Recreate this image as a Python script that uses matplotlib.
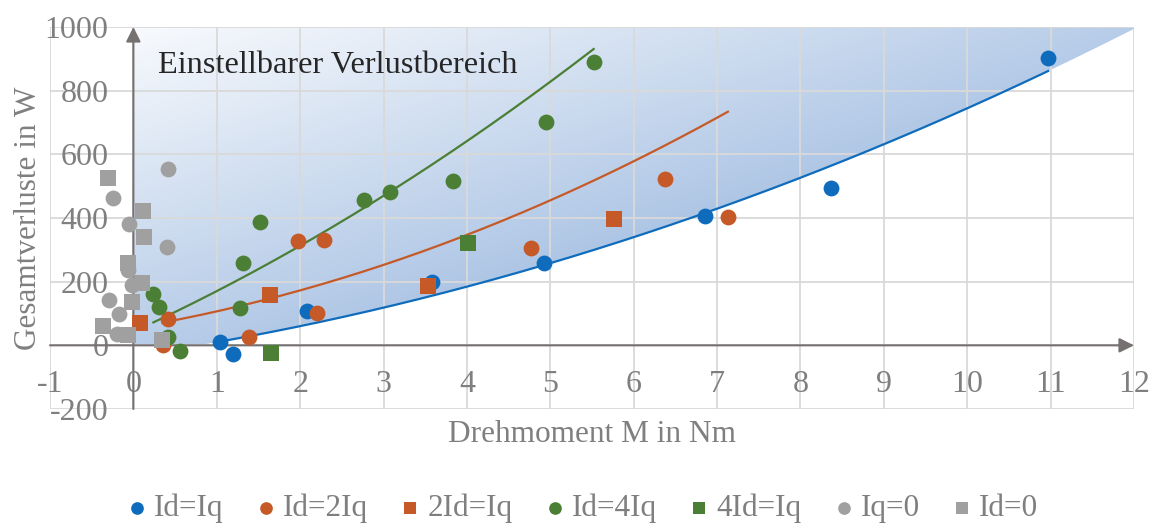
import numpy as np
import matplotlib
matplotlib.use('Agg')
import matplotlib.pyplot as plt
from matplotlib.patches import Polygon

plt.rcParams['font.family'] = ['Liberation Serif', 'DejaVu Serif']
plt.rcParams['axes.unicode_minus'] = False

# --- data (torque in Nm, losses in W) ---
idiq_x = [1.04, 1.19, 2.08, 3.58, 4.93, 6.85, 8.37, 10.97]
idiq_y = [9, -28, 107, 200, 260, 407, 495, 903]

id2iq_x = [0.35, 0.42, 1.39, 1.98, 2.20, 2.29, 4.77, 6.37, 7.13]
id2iq_y = [0, 82, 25, 329, 103, 332, 307, 523, 404]

twoidiq_x = [0.08, 1.64, 3.53, 5.76]
twoidiq_y = [69, 157, 185, 398]

id4iq_x = [0.24, 0.31, 0.42, 0.56, 1.28, 1.31, 1.52, 2.77, 3.08, 3.83, 4.95, 5.52]
id4iq_y = [160, 119, 25, -19, 116, 260, 386, 455, 483, 517, 702, 890]

fouridiq_x = [1.65, 4.01]
fouridiq_y = [-25, 320]

iq0_x = [0.41, -0.25, -0.05, 0.40, -0.06, -0.02, -0.29, -0.17, -0.20]
iq0_y = [555, 464, 382, 310, 238, 191, 141, 97, 35]

id0_x = [-0.30, 0.12, 0.13, -0.06, 0.10, -0.02, -0.36, -0.06, 0.34]
id0_y = [527, 423, 339, 260, 197, 135, 60, 31, 16]

# 2nd order trendlines as shown in the chart (a, b, c)
trend_idiq = [3.92, 38.5, -32.4]
trend_id2iq = [7.10, 44.6, 55.0]
trend_id4iq = [7.37, 120.2, 42.8]

c_blue = '#0f6cbd'
c_orange = '#c55a28'
c_green = '#4a7f35'
c_gray = '#a0a0a0'
txt_gray = '#7f7f7f'

fig = plt.figure(figsize=(11.58, 5.25), dpi=100)
ax = fig.add_axes([50/1158, 1-409/525, (1134-50)/1158, (409-27)/525])

def trend(coef, xs):
    xx = np.linspace(min(xs), max(xs), 200)
    return xx, np.polyval(coef, xx)

xb, yb = trend(trend_idiq, idiq_x)
xo, yo = trend(trend_id2iq, id2iq_x)
xg, yg = trend(trend_id4iq, id4iq_x)

# gradient area above the Id=Iq trend
xf = np.linspace(0, 12, 300)
yf = np.clip(np.polyval(trend_idiq, xf), 0, 1000)
verts = [(0, 1000)] + list(zip(xf, yf)) + [(12, 1000)]
poly = Polygon(verts, closed=True, facecolor='none', edgecolor='none')
ax.add_patch(poly)
gx, gy = np.meshgrid(np.linspace(0, 12, 400), np.linspace(0, 1000, 300))
t = 0.5 * (gx / 12 + (1000 - gy) / 1000)
c0 = np.array([248, 250, 253]) / 255
c1 = np.array([120, 160, 212]) / 255
img = c0 + (c1 - c0) * t[..., None]
im = ax.imshow(img, extent=[0, 12, 0, 1000], origin='lower', aspect='auto', zorder=0.2)
im.set_clip_path(poly)

ax.plot(xb, yb, color=c_blue, lw=1.6, zorder=2)
ax.plot(xo, yo, color=c_orange, lw=1.6, zorder=2)
ax.plot(xg, yg, color=c_green, lw=1.6, zorder=2)

ms = 130
ax.scatter(idiq_x, idiq_y, s=ms, color=c_blue, marker='o', label='Id=Iq', zorder=3, lw=0)
ax.scatter(id2iq_x, id2iq_y, s=ms, color=c_orange, marker='o', label='Id=2Iq', zorder=3, lw=0)
ax.scatter(twoidiq_x, twoidiq_y, s=ms*0.95, color=c_orange, marker='s', label='2Id=Iq', zorder=3, lw=0)
ax.scatter(id4iq_x, id4iq_y, s=ms, color=c_green, marker='o', label='Id=4Iq', zorder=3, lw=0)
ax.scatter(fouridiq_x, fouridiq_y, s=ms*0.95, color=c_green, marker='s', label='4Id=Iq', zorder=3, lw=0)
ax.scatter(iq0_x, iq0_y, s=ms, color=c_gray, marker='o', label='Iq=0', zorder=3, lw=0)
ax.scatter(id0_x, id0_y, s=ms*0.95, color=c_gray, marker='s', label='Id=0', zorder=3, lw=0)

ax.set_xlim(-1, 12)
ax.set_ylim(-200, 1000)
ax.set_xticks(range(-1, 13))
ax.set_yticks(range(-200, 1001, 200))
ax.set_axisbelow(True)
ax.grid(True, color='#d9d9d9', lw=1.3, zorder=0.5)
for sp in ['top', 'right']:
    ax.spines[sp].set_visible(False)
ax.spines['left'].set_position(('data', 0))
ax.spines['bottom'].set_position(('data', 0))
ax.spines['left'].set_color('none')
ax.spines['bottom'].set_color('none')
ax.tick_params(length=0, labelsize=23, labelcolor=txt_gray)
ax.tick_params(axis='y', pad=18)
ax.tick_params(axis='x', pad=17.5)

# axes with arrow heads
arr = dict(arrowstyle='-|>', color='#767171', lw=1.5, mutation_scale=22,
           shrinkA=0, shrinkB=0)
ax.annotate('', xy=(12, 0), xytext=(-1, 0), arrowprops=arr, zorder=2.5)
ax.annotate('', xy=(0, 1000), xytext=(0, -200), arrowprops=arr, zorder=2.5)

ax.text(0.3, 878, 'Einstellbarer Verlustbereich', fontsize=23.3, color='#262626',
        va='center', ha='left')

fig.text(29/1158, 1-218/525, 'Gesamtverluste in W', rotation=90, fontsize=22.5,
         color=txt_gray, ha='center', va='center')
fig.text(592/1158, 1-435/525, 'Drehmoment M in Nm', fontsize=22.5,
         color=txt_gray, ha='center', va='center')

leg = fig.legend(loc='center', bbox_to_anchor=(0.502, 1-508/525), ncol=7,
                 frameon=False, fontsize=22.5, markerscale=0.8,
                 handletextpad=0.15, columnspacing=0.95, handlelength=0.8)
for txt in leg.get_texts():
    txt.set_color(txt_gray)

fig.savefig('out.png', dpi=100)
